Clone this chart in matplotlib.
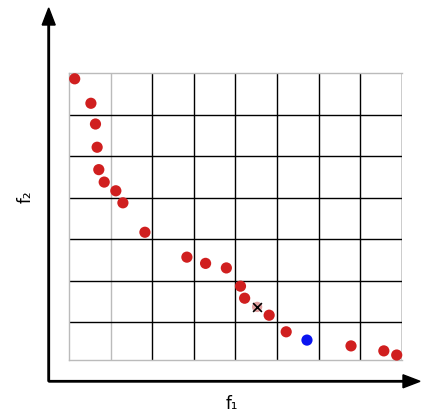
import matplotlib
matplotlib.use('Agg')
import matplotlib.pyplot as plt
import numpy as np

# red front points (grid units)
f1_red = [0.13, 0.52, 0.63, 0.67, 0.71, 0.84, 1.12, 1.29, 1.82, 2.83, 3.28, 3.78,
          4.12, 4.22, 4.81, 5.22, 6.78, 7.57, 7.88]
f2_red = [6.78, 6.19, 5.69, 5.13, 4.59, 4.29, 4.08, 3.79, 3.08, 2.48, 2.33, 2.22,
          1.78, 1.49, 1.08, 0.68, 0.34, 0.22, 0.12]
f1_blue = [5.72]
f2_blue = [0.48]
f1_cross = [4.52]
f2_cross = [1.28]

W, H = 439, 420
fig = plt.figure(figsize=(W / 100, H / 100), dpi=100)
ax = fig.add_axes([69.3 / W, (H - 360) / H, (401.7 - 69.3) / W, (360 - 73) / H])
ax.set_xlim(0, 8)
ax.set_ylim(0, 6.92)

# grid
for x in range(2, 9):
    ax.axvline(x, color='black', lw=1.0, zorder=1)
ax.axvline(1, color='#bbbbbb', lw=1.0, zorder=1)
for y in np.arange(0.91, 6.0, 1.0):
    ax.axhline(y, color='black', lw=1.0, zorder=1)
for s in ['left', 'top', 'bottom']:
    ax.spines[s].set_color('#bbbbbb')
    ax.spines[s].set_linewidth(1.0)
ax.spines['right'].set_visible(False)
ax.set_xticks([])
ax.set_yticks([])

ax.scatter(f1_red, f2_red, s=65, color='#d01f1f', edgecolors='none', zorder=3, clip_on=False)
ax.scatter(f1_blue, f2_blue, s=65, color='#0a14f0', edgecolors='none', zorder=3, clip_on=False)
ax.scatter(f1_cross, f2_cross, s=55, color='#e0a0a0', edgecolors='none', zorder=3)
ax.scatter(f1_cross, f2_cross, s=40, marker='x', color='black', linewidths=1.2, zorder=4)

# axis arrows
ox, oy = 48.7 / W, (H - 381.3) / H
fig.add_artist(matplotlib.patches.FancyArrow(ox, oy, 0, (381.3 - 25) / H, width=1.4 / H,
                                             head_width=13 / W, head_length=17 / H,
                                             length_includes_head=False, color='black',
                                             transform=fig.transFigure))
fig.add_artist(matplotlib.patches.FancyArrow(ox, oy, (403 - 48.7) / W, 0, width=1.4 / H,
                                             head_width=13 / H, head_length=17 / W,
                                             length_includes_head=False, color='black',
                                             transform=fig.transFigure))

fig.text(232 / W, (H - 404) / H, 'f\u2081', fontsize=12, ha='center', va='center')
fig.text(26 / W, (H - 197) / H, 'f\u2082', fontsize=12, ha='center', va='center', rotation=90)

fig.savefig('out.png', dpi=100)
